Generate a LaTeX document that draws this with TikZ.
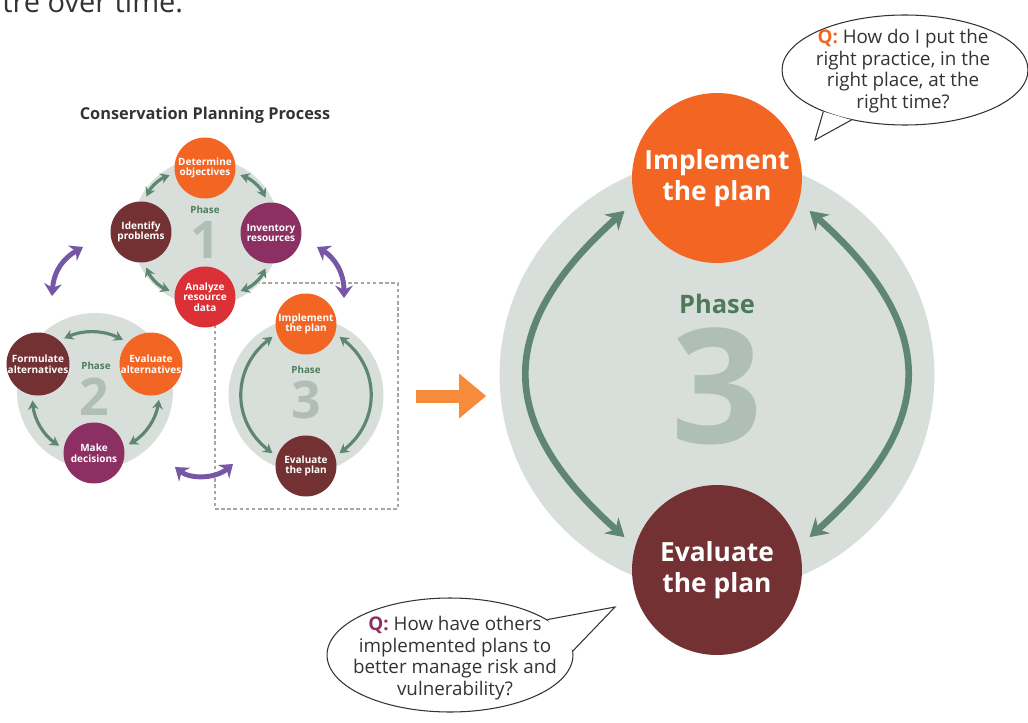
\documentclass[tikz,border=0pt]{standalone}
\usepackage{fontspec}
\setmainfont{Open Sans}
\usetikzlibrary{positioning,shapes.geometric,arrows.meta}

\definecolor{ringgrey}{HTML}{D8DFDB}
\definecolor{ringgreen}{HTML}{5E8672}
\definecolor{phasegreen}{HTML}{4E7A5C}
\definecolor{numgrey}{HTML}{AFBFB5}
\definecolor{cporange}{HTML}{F26522}
\definecolor{cpmaroon}{HTML}{733133}
\definecolor{cpplum}{HTML}{8C3063}
\definecolor{cpred}{HTML}{DA3036}
\definecolor{linkpurple}{HTML}{7856A6}
\definecolor{pointorange}{HTML}{F58B3B}
\definecolor{inkgrey}{HTML}{333333}

\begin{document}
\begin{tikzpicture}[x=0.02cm, y=-0.02cm]
\tikzset{
    ring/.style={circle, fill=ringgrey, minimum size=#1, inner sep=0pt},
    stepc/.style={circle, fill=#1, minimum size=1.22cm, inner sep=0pt, align=center, text=white, font=\bfseries\fontsize{5.7}{6}\selectfont},
    bigc/.style={circle, fill=#1, minimum size=3.4cm, inner sep=0pt, align=center, text=white, font=\bfseries\fontsize{15}{17.6}\selectfont},
    phaselbl/.style={anchor=base, inner sep=0pt, text=phasegreen, font=\bfseries\fontsize{#1}{#1}\selectfont},
    phasenum/.style={anchor=base, inner sep=0pt, text=numgrey, font=\bfseries\fontsize{#1}{#1}\selectfont},
    cycarrow/.style={<->, >={Stealth[length=5.2pt, width=6pt]}, draw=ringgreen, line width=1.8pt, shorten <=3pt, shorten >=3pt},
    bigarrow/.style={<->, >={Stealth[length=10pt, width=12pt]}, draw=ringgreen, line width=3.8pt, shorten <=8pt, shorten >=8pt},
    linkarrow/.style={<->, >={Stealth[length=7pt, width=10pt]}, draw=linkpurple, line width=2.8pt},
    bubble/.style={ellipse, draw=inkgrey, line width=0.6pt, fill=white, inner sep=0pt},
    qtext/.style={align=center, text=inkgrey, font=\fontsize{10.7}{12.2}\selectfont}
}
\useasboundingbox (0,0) rectangle (1028,723);
\clip (0,0) rectangle (1028,723);

\node[anchor=base west, inner sep=0pt, text=inkgrey, font=\fontsize{16.5}{18}\selectfont] (lead) at (2,13) {tre over time.};
\node[text=inkgrey, font=\bfseries\fontsize{9.3}{10}\selectfont] (title) at (205,115) {Conservation Planning Process};

% frame round the small phase 3
\node[draw=gray!70, dash pattern=on 2pt off 1.5pt, line width=0.6pt, minimum width=3.66cm, minimum height=4.52cm] (frame) at (306.5,396) {};

% grey rings
\node[ring=2.96cm] (ph1) at (206,232) {};
\node[ring=3.12cm] (ph2) at (95,391) {};
\node[ring=3.1cm] (ph3) at (306,395) {};
\node[ring=8.7cm] (bigph) at (717,375) {};

% phase 1
\node[phaselbl=5.6] (ph1lbl) at (205,214) {Phase};
\node[phasenum=29.5] (ph1num) at (205,258) {1};
\node[stepc=cporange] (det) at (205,168) {Determine\\objectives};
\node[stepc=cpmaroon] (ide) at (141,232) {Identify\\problems};
\node[stepc=cpplum] (inv) at (271,233) {Inventory\\resources};
\node[stepc=cpred] (ana) at (205,297) {Analyze\\resource\\data};
\draw[cycarrow] (det.190) to[bend right=22] (ide.84);
\draw[cycarrow] (det.-10) to[bend left=22] (inv.96);
\draw[cycarrow] (ide.-84) to[bend right=22] (ana.172);
\draw[cycarrow] (inv.-96) to[bend left=22] (ana.8);

% phase 2
\node[phaselbl=5.6] (ph2lbl) at (96,369) {Phase};
\node[phasenum=29.5] (ph2num) at (94,415) {2};
\node[stepc=cpmaroon] (form) at (38,364) {Formulate\\alternatives};
\node[stepc=cporange] (evalt) at (151,364) {Evaluate\\alternatives};
\node[stepc=cpplum] (make) at (94,453) {Make\\decisions};
\draw[cycarrow] (form.48) to[bend left=25] (evalt.137);
\draw[cycarrow] (form.259) to[bend right=25] (make.172);
\draw[cycarrow] (evalt.-74) to[bend left=25] (make.11);

% phase 3 (small)
\node[phaselbl=5.6] (ph3lbl) at (306,373) {Phase};
\node[phasenum=29.5] (ph3num) at (306,418) {3};
\node[stepc=cporange] (impl) at (306,324) {Implement\\the plan};
\node[stepc=cpmaroon] (evl) at (306,466) {Evaluate\\the plan};
\draw[cycarrow] (impl.198) .. controls +(-45,35) and +(-45,-35) .. (evl.162);
\draw[cycarrow] (impl.-18) .. controls +(45,35) and +(45,-35) .. (evl.18);

% links between the phases
\coordinate (l12a) at (52,296);
\coordinate (l12b) at (83,247);
\coordinate (l13a) at (317,247);
\coordinate (l13b) at (344,298);
\coordinate (l23a) at (175,467);
\coordinate (l23b) at (233,464);
\draw[linkarrow] (l12a) .. controls (54,270) and (64,258) .. (l12b);
\draw[linkarrow] (l13a) .. controls (332,256) and (344,270) .. (l13b);
\draw[linkarrow] (l23a) .. controls (190,479) and (215,479) .. (l23b);

% big phase 3
\draw[pointorange, line width=0.26cm, shorten <=0.34cm, shorten >=0.26cm, -{Triangle[length=0.54cm, width=0.86cm]}] (frame.east) -- (frame.east -| bigph.west);
\node[phaselbl=14.5] (biglbl) at (717,313) {Phase};
\node[phasenum=91] (bignum) at (717,443) {3};
\node[bigc=cporange] (bimpl) at (717,178) {Implement\\the plan};
\node[bigc=cpmaroon] (bevl) at (717,570) {Evaluate\\the plan};
\draw[bigarrow] (bimpl.196) .. controls +(-140,125) and +(-140,-125) .. (bevl.164);
\draw[bigarrow] (bimpl.-16) .. controls +(140,125) and +(140,-125) .. (bevl.16);

% question bubbles
\node[bubble, minimum width=4.92cm, minimum height=2.2cm] (qtop) at (905,70) {};
\coordinate (qtoptip) at (815,140);
\fill[white] (qtop.207) -- (qtoptip) -- (qtop.223) -- cycle;
\draw[inkgrey, line width=0.6pt] (qtop.207) -- (qtoptip) -- (qtop.223);
\node[qtext] (qtoptxt) at (903,71) {\textcolor{cporange}{\bfseries Q:} How do I put the\\right practice, in the\\right place, at the\\right time?};

\node[bubble, minimum width=4.92cm, minimum height=2.28cm] (qbot) at (450,655) {};
\coordinate (qbottip) at (615,607);
\fill[white] (qbot.20) -- (qbottip) -- (qbot.2) -- cycle;
\draw[inkgrey, line width=0.6pt] (qbot.20) -- (qbottip) -- (qbot.2);
\node[qtext] (qbottxt) at (455,658) {\textcolor{cpplum}{\bfseries Q:} How have others\\implemented plans to\\better manage risk and\\vulnerability?};
\end{tikzpicture}
\end{document}
